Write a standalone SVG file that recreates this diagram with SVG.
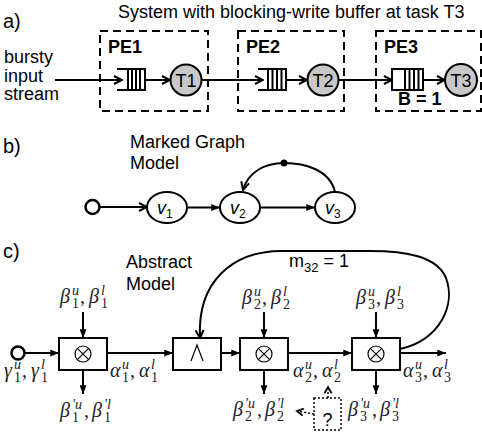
<svg xmlns="http://www.w3.org/2000/svg" width="482" height="432" viewBox="0 0 482 432">
  <style>
    .t { font-family: "Liberation Sans", Arial, sans-serif; font-size: 18px; fill: #000; }
    .bd { font-weight: bold; }
    .lbl { font-size: 20px; }
    .vn { font-family: "Liberation Sans", Arial, sans-serif; font-style: italic; font-size: 18px; fill: #000; }
    .vs { font-style: normal; font-size: 12px; }
    .m { font-family: "Liberation Serif", "DejaVu Serif", serif; font-style: italic; font-size: 20px; fill: #222; }
    .mr { font-style: normal; }
    .sup { font-style: italic; font-size: 14px; }
    .sub { font-style: normal; font-size: 14px; }
    .ln { stroke: #000; stroke-width: 2; fill: none; }
    .thin { stroke: #000; stroke-width: 1.2; fill: none; }
    .dash { stroke: #000; stroke-width: 2; fill: none; stroke-dasharray: 8 5; }
    .dot { stroke: #000; stroke-width: 1.5; fill: none; stroke-dasharray: 2 2; }
    .task { fill: #c8c8c8; stroke: #000; stroke-width: 2; }
    .q { fill: #fff; stroke: #000; stroke-width: 2; }
    .node { fill: #fff; stroke: #000; stroke-width: 2; }
  </style>
  <defs>
    <marker id="open" viewBox="0 0 10 10" refX="9" refY="5" markerWidth="10" markerHeight="10" markerUnits="userSpaceOnUse" orient="auto">
      <path d="M1,1 L9,5 L1,9" fill="none" stroke="#000" stroke-width="2"/>
    </marker>
    <marker id="tri" viewBox="0 0 10 8" refX="10" refY="4" markerWidth="9" markerHeight="7" markerUnits="userSpaceOnUse" orient="auto">
      <path d="M0,0 L10,4 L0,8 z" fill="#000"/>
    </marker>
    <marker id="chev" viewBox="0 0 10 10" refX="8" refY="5" markerWidth="9" markerHeight="9" markerUnits="userSpaceOnUse" orient="auto">
      <path d="M1,1 L8,5 L1,9" fill="none" stroke="#000" stroke-width="2"/>
    </marker>
  </defs>

  <!-- ===== a) system ===== -->
  <text class="t lbl" x="3" y="28">a)</text>
  <text class="t" x="118" y="18">System with blocking-write buffer at task T3</text>
  <text class="t" x="4" y="63">bursty</text>
  <text class="t" x="4" y="82">input</text>
  <text class="t" x="4" y="100">stream</text>

  <g id="pe1">
    <rect class="dash" x="100" y="31" width="108" height="80"/>
    <text class="t bd" x="108" y="53">PE1</text>
    <path class="q" d="M117,69 H145 V90 H117"/>
    <path class="ln" d="M128,69 V90 M132,69 V90 M136,69 V90 M140,69 V90"/>
    <circle class="task" cx="186" cy="80" r="15.5"/>
    <text class="t" x="186" y="86.5" text-anchor="middle">T1</text>
  </g>
  <g id="pe2">
    <rect class="dash" x="238" y="31" width="106" height="80"/>
    <text class="t bd" x="246" y="53">PE2</text>
    <path class="q" d="M258,69 H286 V90 H258"/>
    <path class="ln" d="M268,69 V90 M272.5,69 V90 M277,69 V90 M281.5,69 V90"/>
    <circle class="task" cx="323" cy="80" r="15.5"/>
    <text class="t" x="323" y="86.5" text-anchor="middle">T2</text>
  </g>
  <g id="pe3">
    <rect class="dash" x="376" y="31" width="105" height="80"/>
    <text class="t bd" x="384" y="53">PE3</text>
    <rect class="q" x="392" y="69" width="31" height="21"/>
    <path class="ln" d="M405,69 V90 M409.5,69 V90 M414,69 V90 M418.5,69 V90"/>
    <circle class="task" cx="461" cy="80" r="16"/>
    <text class="t" x="461" y="86.5" text-anchor="middle">T3</text>
    <text class="t bd" x="398" y="105">B = 1</text>
  </g>

  <g id="edges-a">
    <line class="ln" x1="55" y1="80" x2="122" y2="80" marker-end="url(#open)"/>
    <line class="ln" x1="145" y1="80" x2="170" y2="80" marker-end="url(#open)"/>
    <line class="ln" x1="201.5" y1="80" x2="263" y2="80" marker-end="url(#open)"/>
    <line class="ln" x1="286" y1="80" x2="307" y2="80" marker-end="url(#open)"/>
    <line class="ln" x1="338.5" y1="80" x2="392" y2="80" marker-end="url(#open)"/>
    <line class="ln" x1="423" y1="80" x2="445" y2="80" marker-end="url(#open)"/>
  </g>

  <!-- ===== b) marked graph ===== -->
  <text class="t lbl" x="3" y="153">b)</text>
  <text class="t" x="130" y="148">Marked Graph</text>
  <text class="t" x="130" y="169">Model</text>

  <g id="src-b">
    <circle cx="92.5" cy="207" r="7" fill="#fff" stroke="#000" stroke-width="2.5"/>
  </g>
  <g id="v1">
    <ellipse class="node" cx="167" cy="207.5" rx="20" ry="15.5"/>
    <text class="vn" x="157" y="214">v<tspan class="vs" dy="4">1</tspan></text>
  </g>
  <g id="v2">
    <ellipse class="node" cx="240" cy="207.5" rx="20" ry="15.5"/>
    <text class="vn" x="230" y="214">v<tspan class="vs" dy="4">2</tspan></text>
  </g>
  <g id="v3">
    <ellipse class="node" cx="335" cy="207.5" rx="20" ry="15.5"/>
    <text class="vn" x="325" y="214">v<tspan class="vs" dy="4">3</tspan></text>
  </g>
  <g id="edges-b">
    <line class="ln" x1="100" y1="207" x2="147" y2="207" marker-end="url(#open)"/>
    <line class="ln" x1="187" y1="207.5" x2="220" y2="207.5" marker-end="url(#tri)"/>
    <line class="ln" x1="260" y1="207.5" x2="315" y2="207.5" marker-end="url(#tri)"/>
    <path class="ln" d="M335,192 C330,170 305,163 284,163 C265,163 248,172 243,190" marker-end="url(#open)"/>
    <circle cx="284" cy="163" r="3.5" fill="#000"/>
  </g>

  <!-- ===== c) abstract model ===== -->
  <text class="t lbl" x="3" y="258">c)</text>
  <text class="t" x="126" y="268">Abstract</text>
  <text class="t" x="126" y="290">Model</text>

  <g id="src-c">
    <circle cx="18" cy="353" r="6.5" fill="#fff" stroke="#000" stroke-width="2.5"/>
  </g>
  <g id="gpc1">
    <rect class="ln" x="59" y="338" width="48" height="32"/>
    <circle class="thin" cx="83" cy="354" r="8"/>
    <path class="thin" d="M77.3,348.3 L88.7,359.7 M88.7,348.3 L77.3,359.7"/>
  </g>
  <g id="and">
    <rect class="ln" x="173" y="338" width="48" height="32"/>
    <path class="thin" d="M191,361 L197,345 L203,361"/>
  </g>
  <g id="gpc2">
    <rect class="ln" x="240" y="338" width="48" height="32"/>
    <circle class="thin" cx="264" cy="354" r="8"/>
    <path class="thin" d="M258.3,348.3 L269.7,359.7 M269.7,348.3 L258.3,359.7"/>
  </g>
  <g id="gpc3">
    <rect class="ln" x="352" y="338" width="48" height="32"/>
    <circle class="thin" cx="376" cy="354" r="8"/>
    <path class="thin" d="M370.3,348.3 L381.7,359.7 M381.7,348.3 L370.3,359.7"/>
  </g>
  <g id="unknown">
    <rect class="dot" x="314" y="398" width="27" height="32"/>
    <text class="t" x="327.5" y="426" text-anchor="middle" font-size="20">?</text>
  </g>

  <g id="edges-c">
    <line class="ln" x1="25" y1="353" x2="59" y2="353" marker-end="url(#tri)"/>
    <line class="ln" x1="107" y1="353" x2="173" y2="353" marker-end="url(#tri)"/>
    <line class="ln" x1="221" y1="353" x2="240" y2="353" marker-end="url(#tri)"/>
    <line class="ln" x1="288" y1="353" x2="352" y2="353" marker-end="url(#tri)"/>
    <line class="ln" x1="400" y1="353" x2="446" y2="353" marker-end="url(#tri)"/>
    <line class="ln" x1="83" y1="312" x2="83" y2="338" marker-end="url(#tri)"/>
    <line class="ln" x1="264" y1="312" x2="264" y2="338" marker-end="url(#tri)"/>
    <line class="ln" x1="376" y1="312" x2="376" y2="338" marker-end="url(#tri)"/>
    <line class="ln" x1="83" y1="370" x2="83" y2="394" marker-end="url(#tri)"/>
    <line class="ln" x1="264" y1="370" x2="264" y2="394" marker-end="url(#tri)"/>
    <line class="ln" x1="376" y1="370" x2="376" y2="394" marker-end="url(#tri)"/>
    <path class="ln" d="M400,349 C440,340 456,305 446,278 C437,256 405,251 370,251 L282,251 C232,251 197,282 200,338" marker-end="url(#open)"/>
    <line class="dot" x1="328" y1="398" x2="328" y2="387" marker-end="url(#chev)"/>
    <line class="dot" x1="314" y1="414" x2="297" y2="411" marker-end="url(#chev)"/>
  </g>

  <text class="t" x="289" y="267">m<tspan font-size="13" dy="5">32</tspan><tspan dy="-5"> = 1</tspan></text>

  <!-- curve labels: base symbol with stacked super/subscripts -->
  <g transform="translate(60,303)">
    <text class="m"><tspan x="0" y="0">β</tspan><tspan class="sup" x="12" y="-8">u</tspan><tspan class="sub" x="12" y="5">1</tspan><tspan class="mr" x="20" y="0">,</tspan><tspan x="29" y="0">β</tspan><tspan class="sup" x="41" y="-8">l</tspan><tspan class="sub" x="41" y="5">1</tspan></text>
  </g>
  <g transform="translate(242,304)">
    <text class="m"><tspan x="0" y="0">β</tspan><tspan class="sup" x="12" y="-8">u</tspan><tspan class="sub" x="12" y="5">2</tspan><tspan class="mr" x="20" y="0">,</tspan><tspan x="29" y="0">β</tspan><tspan class="sup" x="41" y="-8">l</tspan><tspan class="sub" x="41" y="5">2</tspan></text>
  </g>
  <g transform="translate(356,304)">
    <text class="m"><tspan x="0" y="0">β</tspan><tspan class="sup" x="12" y="-8">u</tspan><tspan class="sub" x="12" y="5">3</tspan><tspan class="mr" x="20" y="0">,</tspan><tspan x="29" y="0">β</tspan><tspan class="sup" x="41" y="-8">l</tspan><tspan class="sub" x="41" y="5">3</tspan></text>
  </g>
  <g transform="translate(4,377)">
    <text class="m"><tspan x="0" y="0">γ</tspan><tspan class="sup" x="10" y="-8">u</tspan><tspan class="sub" x="10" y="5">1</tspan><tspan class="mr" x="18" y="0">,</tspan><tspan x="27" y="0">γ</tspan><tspan class="sup" x="37" y="-8">l</tspan><tspan class="sub" x="37" y="5">1</tspan></text>
  </g>
  <g transform="translate(110,377)">
    <text class="m"><tspan x="0" y="0">α</tspan><tspan class="sup" x="12" y="-8">u</tspan><tspan class="sub" x="12" y="5">1</tspan><tspan class="mr" x="20" y="0">,</tspan><tspan x="29" y="0">α</tspan><tspan class="sup" x="41" y="-8">l</tspan><tspan class="sub" x="41" y="5">1</tspan></text>
  </g>
  <g transform="translate(293,377)">
    <text class="m"><tspan x="0" y="0">α</tspan><tspan class="sup" x="12" y="-8">u</tspan><tspan class="sub" x="12" y="5">2</tspan><tspan class="mr" x="20" y="0">,</tspan><tspan x="29" y="0">α</tspan><tspan class="sup" x="41" y="-8">l</tspan><tspan class="sub" x="41" y="5">2</tspan></text>
  </g>
  <g transform="translate(403,377)">
    <text class="m"><tspan x="0" y="0">α</tspan><tspan class="sup" x="12" y="-8">u</tspan><tspan class="sub" x="12" y="5">3</tspan><tspan class="mr" x="20" y="0">,</tspan><tspan x="29" y="0">α</tspan><tspan class="sup" x="41" y="-8">l</tspan><tspan class="sub" x="41" y="5">3</tspan></text>
  </g>
  <g transform="translate(60,417)">
    <text class="m"><tspan x="0" y="0">β</tspan><tspan class="sup" x="12" y="-8">′u</tspan><tspan class="sub" x="12" y="5">1</tspan><tspan class="mr" x="24" y="0">,</tspan><tspan x="32" y="0">β</tspan><tspan class="sup" x="44" y="-8">′l</tspan><tspan class="sub" x="44" y="5">1</tspan></text>
  </g>
  <g transform="translate(233,416)">
    <text class="m"><tspan x="0" y="0">β</tspan><tspan class="sup" x="12" y="-8">′u</tspan><tspan class="sub" x="12" y="5">2</tspan><tspan class="mr" x="24" y="0">,</tspan><tspan x="32" y="0">β</tspan><tspan class="sup" x="44" y="-8">′l</tspan><tspan class="sub" x="44" y="5">2</tspan></text>
  </g>
  <g transform="translate(348,416)">
    <text class="m"><tspan x="0" y="0">β</tspan><tspan class="sup" x="12" y="-8">′u</tspan><tspan class="sub" x="12" y="5">3</tspan><tspan class="mr" x="24" y="0">,</tspan><tspan x="32" y="0">β</tspan><tspan class="sup" x="44" y="-8">′l</tspan><tspan class="sub" x="44" y="5">3</tspan></text>
  </g>
</svg>
